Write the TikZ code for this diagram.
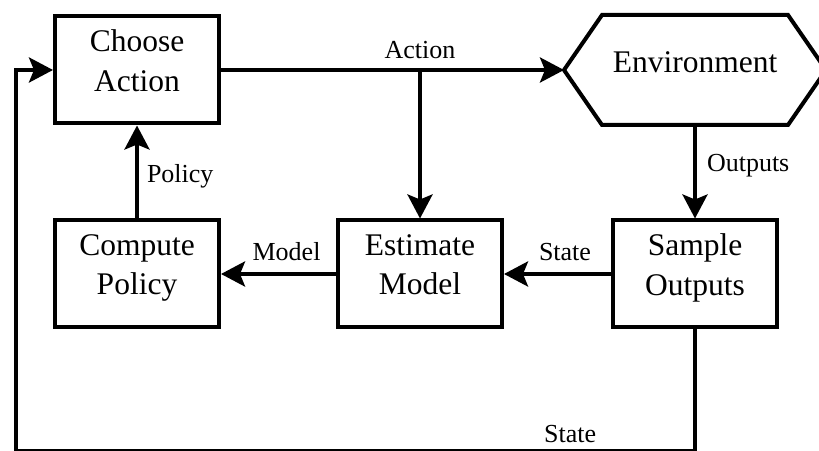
\documentclass[tikz,border=0pt]{standalone}
\usepackage{fontspec}
\setmainfont{Liberation Serif}
\usetikzlibrary{positioning,arrows.meta}

\begin{document}
\begin{tikzpicture}[x=1pt,y=1pt,
		block/.style={draw, line width=4pt, minimum width=164pt, minimum height=107pt, align=center, text depth=19pt, font=\fontsize{31.5}{39.5}\selectfont},
		lbl/.style={inner sep=2pt, font=\fontsize{26}{30}\selectfont},
		flow/.style={line width=4pt, -{Stealth[length=24pt,width=25pt,inset=5pt]}},
	]
		\useasboundingbox (0,0) rectangle (819,450);
		\node [block] (choose) at (137,380) {Choose\\Action};
		\node [block, below=93pt of choose] (comp) {Compute\\Policy};
		\node [block, right=115pt of comp] (est) {Estimate\\Model};
		\node [block, right=107pt of est] (samp) {Sample\\Outputs};
		\node [above=93.5pt of samp, minimum width=262pt, minimum height=110pt, inner sep=0pt, outer sep=0pt, text depth=16pt, font=\fontsize{31.5}{39.5}\selectfont] (env) {Environment};
		\draw [line width=4pt] (env.west) -- ([xshift=38pt]env.north west) -- ([xshift=-38pt]env.north east) -- (env.east)
			-- ([xshift=-38pt]env.south east) -- ([xshift=38pt]env.south west) -- cycle;
		\coordinate (br) at (choose.east -| est.north);
		\coordinate (lr) at (samp.south |- 0,-1);
		\coordinate (ll) at (16,-1);
		\node [lbl, above=9pt of br] (act) {Action};
		\draw [flow] (choose.east) -- (env.west);
		\draw [flow] (br) -- (est.north);
		\draw [flow] (env.south) -- node [lbl, pos=0.43, right=8pt] {Outputs} (samp.north);
		\draw [flow] (samp.west) -- node [lbl, pos=0.43, above=9pt] {State} (est.east);
		\draw [flow] (est.west) -- node [lbl, pos=0.43, above=9pt] {Model} (comp.east);
		\draw [flow] (comp.north) -- node [lbl, pos=0.45, right=6pt] {Policy} (choose.south);
		\draw [flow] (samp.south) -- (lr) -- node [lbl, pos=0.184, above=4.5pt] {State} (ll) |- (choose.west);
	\end{tikzpicture}
\end{document}
